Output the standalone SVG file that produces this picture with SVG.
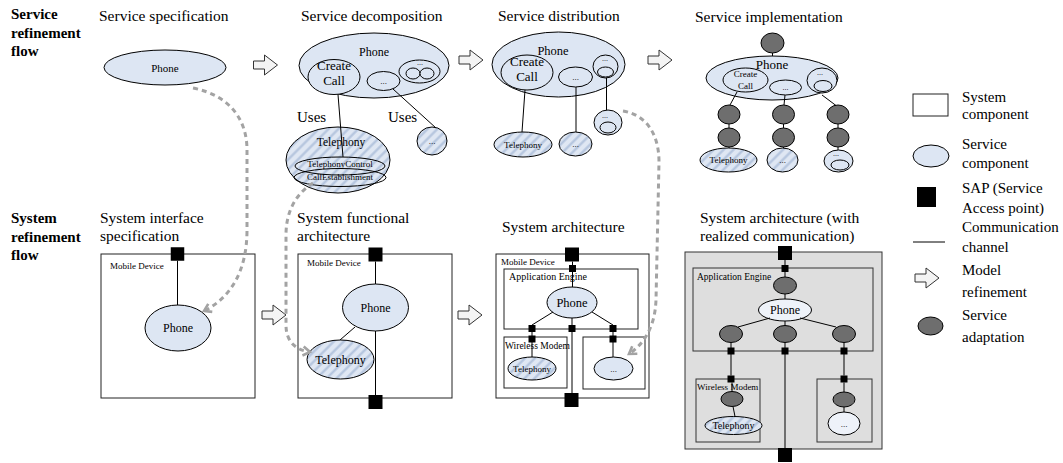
<svg xmlns="http://www.w3.org/2000/svg" width="1063" height="463" viewBox="0 0 1063 463">
<defs>
<style>
text{font-family:"Liberation Serif","Times New Roman",serif;fill:#000}
.h{font-size:15px;font-weight:bold}
.ti{font-size:15.5px}
.lg{font-size:15px}
.c{text-anchor:middle}
.svc{fill:#dde6f3;stroke:#000;stroke-width:1}
.wsv{fill:#eef2f9;stroke:#000;stroke-width:1}
.hat{fill:url(#hatch);stroke:#000;stroke-width:1}
.ad{fill:#6e6e6e;stroke:#000;stroke-width:1}
.box{fill:#fff;stroke:#222;stroke-width:1}
.gbox{fill:#dedede;stroke:#333;stroke-width:1}
.sap{fill:#000}
.ln{stroke:#000;stroke-width:1;fill:none}
.dash{stroke:#a3a3a3;stroke-width:3;stroke-dasharray:5 4;fill:none;marker-end:url(#open)}
.ref{fill:#f4f4f4;stroke:#333;stroke-width:1}
</style>
<pattern id="hatch" width="7" height="7" patternUnits="userSpaceOnUse" patternTransform="rotate(45)">
<rect width="7" height="7" fill="#dfe7f3"/>
<line x1="1.5" y1="0" x2="1.5" y2="7" stroke="#b2c3dd" stroke-width="2.2"/>
</pattern>
<marker id="open" viewBox="0 0 12 12" refX="9" refY="6" markerWidth="12" markerHeight="12" markerUnits="userSpaceOnUse" orient="auto">
<path d="M2,1.5 L9,6 L2,10.5" fill="none" stroke="#a3a3a3" stroke-width="2.6" stroke-dasharray="none"/>
</marker>
<polygon id="refarrow" class="ref" points="-12,-4 -1,-4 -1,-10 12,0 -1,10 -1,4 -12,4"/>
</defs>

<g id="labels">
<text class="h" x="11" y="19">Service</text>
<text class="h" x="11" y="38">refinement</text>
<text class="h" x="11" y="56">flow</text>
<text class="h" x="11" y="223">System</text>
<text class="h" x="11" y="242">refinement</text>
<text class="h" x="11" y="260">flow</text>
<text class="ti" x="99" y="21">Service specification</text>
<text class="ti" x="301" y="21">Service decomposition</text>
<text class="ti" x="498" y="21">Service distribution</text>
<text class="ti" x="695" y="22">Service implementation</text>
<text class="ti" x="100" y="223">System interface</text>
<text class="ti" x="100" y="241">specification</text>
<text class="ti" x="297" y="223">System functional</text>
<text class="ti" x="297" y="241">architecture</text>
<text class="ti" x="502" y="232">System architecture</text>
<text class="ti" x="700" y="223">System architecture (with</text>
<text class="ti" x="700" y="241">realized communication)</text>
</g>

<g id="refinement-arrows">
<use href="#refarrow" x="265.5" y="65"/>
<use href="#refarrow" x="471" y="60"/>
<use href="#refarrow" x="660" y="60"/>
<use href="#refarrow" x="274" y="315"/>
<use href="#refarrow" x="470" y="315"/>
</g>

<!-- Service specification -->
<g id="spec-phone">
<ellipse class="svc" cx="165" cy="67.5" rx="61" ry="17.5"/>
<text class="c" x="165" y="71.5" font-size="11">Phone</text>
</g>

<!-- Service decomposition -->
<g id="dec-phone">
<ellipse class="svc" cx="374" cy="65.5" rx="75" ry="32.5"/>
<text class="c" x="374" y="56" font-size="12">Phone</text>
</g>
<g id="dec-createcall">
<ellipse class="svc" cx="334" cy="77" rx="26" ry="17.5"/>
<text class="c" x="334" y="69.5" font-size="13">Create</text>
<text class="c" x="334" y="85" font-size="13">Call</text>
</g>
<g id="dec-dots">
<ellipse class="svc" cx="383.5" cy="81" rx="16.5" ry="9.5"/>
<text class="c" x="383.5" y="83.5" font-size="9">...</text>
</g>
<g id="dec-group">
<ellipse class="svc" cx="419.5" cy="71.5" rx="20.5" ry="11.5"/>
<text class="c" x="420" y="65" font-size="8">...</text>
<ellipse class="svc" cx="413" cy="73.5" rx="7" ry="5.5"/>
<ellipse class="svc" cx="427" cy="73.5" rx="7" ry="5.5"/>
</g>
<g id="dec-telephony">
<ellipse class="hat" cx="338" cy="160" rx="52" ry="33"/>
<text class="c" x="341" y="146" font-size="11.5">Telephony</text>
<ellipse fill="none" stroke="#000" cx="340" cy="166" rx="45" ry="9"/>
<text class="c" x="340" y="167" font-size="9">TelephonyControl</text>
<ellipse fill="none" stroke="#000" cx="340" cy="177.5" rx="46" ry="9"/>
<text class="c" x="340" y="180" font-size="9">CallEstablishment</text>
</g>
<g id="dec-dots2">
<ellipse class="hat" cx="432" cy="141" rx="15" ry="14"/>
<text class="c" x="432" y="144" font-size="9">...</text>
</g>
<g id="dec-uses">
<text class="lg" x="297" y="122">Uses</text>
<text class="lg" x="388" y="122">Uses</text>
</g>

<!-- Service distribution -->
<g id="dis-phone">
<ellipse class="svc" cx="558.5" cy="64.5" rx="66.5" ry="32.5"/>
<text class="c" x="553" y="55" font-size="12.5">Phone</text>
</g>
<g id="dis-createcall">
<ellipse class="svc" cx="527" cy="72.5" rx="26" ry="17.5"/>
<text class="c" x="527" y="66" font-size="13">Create</text>
<text class="c" x="527" y="81" font-size="13">Call</text>
</g>
<g id="dis-dots">
<ellipse class="svc" cx="575.5" cy="77" rx="17" ry="10"/>
<text class="c" x="575.5" y="80" font-size="9">...</text>
</g>
<g id="dis-group">
<ellipse class="svc" cx="605.5" cy="66.5" rx="12.5" ry="11.5"/>
<text class="c" x="605" y="61" font-size="8">...</text>
<ellipse class="svc" cx="605.5" cy="72" rx="8" ry="5"/>
</g>
<g id="dis-group2">
<ellipse class="svc" cx="608" cy="122.5" rx="14" ry="12.5"/>
<text class="c" x="605" y="118" font-size="8">...</text>
<ellipse class="svc" cx="608" cy="127.5" rx="8" ry="5.5"/>
</g>
<g id="dis-telephony">
<ellipse class="hat" cx="523" cy="144.5" rx="29" ry="12.5"/>
<text class="c" x="523" y="147.5" font-size="9">Telephony</text>
</g>
<g id="dis-dots2">
<ellipse class="hat" cx="575.5" cy="144" rx="16.5" ry="12"/>
<text class="c" x="575.5" y="147" font-size="9">...</text>
</g>

<!-- Service implementation -->
<g id="imp-adapt-top"><ellipse class="ad" cx="772.5" cy="43" rx="11.5" ry="10"/></g>
<g id="imp-phone">
<ellipse class="svc" cx="772" cy="78" rx="66" ry="22"/>
<text class="c" x="772" y="68.5" font-size="13">Phone</text>
</g>
<g id="imp-createcall">
<ellipse class="svc" cx="745.5" cy="80" rx="22.5" ry="12"/>
<text class="c" x="745.5" y="77" font-size="9">Create</text>
<text class="c" x="745.5" y="88.5" font-size="9">Call</text>
</g>
<g id="imp-dots">
<ellipse class="svc" cx="785.5" cy="87.5" rx="16" ry="7.5"/>
<text class="c" x="785.5" y="90" font-size="8">...</text>
</g>
<g id="imp-group">
<ellipse class="svc" cx="822" cy="80.5" rx="15" ry="12.5"/>
<text class="c" x="820" y="75" font-size="8">...</text>
<ellipse class="svc" cx="823" cy="86" rx="9" ry="5.5"/>
</g>
<g id="imp-col1">
<ellipse class="ad" cx="729" cy="114.5" rx="11" ry="9.5"/>
<ellipse class="ad" cx="729" cy="137.5" rx="11" ry="9.5"/>
<ellipse class="hat" cx="728.5" cy="160" rx="28.5" ry="12"/>
<text class="c" x="728.5" y="163" font-size="9">Telephony</text>
</g>
<g id="imp-col2">
<ellipse class="ad" cx="783.5" cy="114.5" rx="11" ry="9.5"/>
<ellipse class="ad" cx="783.5" cy="137.5" rx="11" ry="9.5"/>
<ellipse class="hat" cx="782.5" cy="160" rx="15.5" ry="12"/>
<text class="c" x="782.5" y="163" font-size="9">...</text>
</g>
<g id="imp-col3">
<ellipse class="ad" cx="838" cy="114.5" rx="11" ry="9.5"/>
<ellipse class="ad" cx="838" cy="137.5" rx="11" ry="9.5"/>
<ellipse class="svc" cx="838.5" cy="161" rx="14.5" ry="11"/>
<text class="c" x="836" y="156" font-size="8">...</text>
<ellipse class="svc" cx="840" cy="165" rx="9" ry="5"/>
</g>

<!-- System interface specification -->
<g id="sis-device">
<rect class="box" x="101" y="254" width="154" height="144"/>
<text x="110" y="269" font-size="9">Mobile Device</text>
<rect class="sap" x="170.75" y="247.25" width="13.5" height="13.5"/>
</g>
<g id="sis-phone">
<ellipse class="svc" cx="178" cy="328" rx="33" ry="23"/>
<text class="c" x="178" y="332" font-size="12">Phone</text>
</g>

<!-- System functional architecture -->
<g id="sfa-device">
<rect class="box" x="298" y="254" width="154" height="144"/>
<text x="307" y="266" font-size="9">Mobile Device</text>
<rect class="sap" x="368.5" y="247.5" width="14" height="14"/>
<rect class="sap" x="368.5" y="395" width="14" height="14"/>
</g>
<g id="sfa-phone">
<ellipse class="svc" cx="375.5" cy="307.5" rx="33" ry="23.5"/>
<text class="c" x="375.5" y="312" font-size="12">Phone</text>
</g>
<g id="sfa-telephony">
<ellipse class="hat" cx="340.5" cy="359.5" rx="33.5" ry="19.5"/>
<text class="c" x="340.5" y="364" font-size="12">Telephony</text>
</g>

<!-- System architecture -->
<g id="sa-device">
<rect class="box" x="496" y="254" width="153" height="144"/>
<text x="501" y="265" font-size="9">Mobile Device</text>
<rect class="sap" x="565" y="247.5" width="14" height="14"/>
<rect class="sap" x="564.5" y="393" width="14" height="14"/>
</g>
<g id="sa-appengine">
<rect class="box" x="504" y="269" width="134" height="60"/>
<text x="509" y="279.5" font-size="10">Application Engine</text>
<rect class="sap" x="569" y="265" width="7" height="7"/>
<rect class="sap" x="528.5" y="325" width="7" height="7"/>
<rect class="sap" x="568.5" y="325" width="7" height="7"/>
<rect class="sap" x="609.5" y="325" width="7" height="7"/>
</g>
<g id="sa-phone">
<ellipse class="svc" cx="572" cy="302.5" rx="25" ry="15.5"/>
<text class="c" x="572" y="307" font-size="12.5">Phone</text>
</g>
<g id="sa-modem">
<rect class="box" x="504" y="337" width="63" height="51"/>
<text x="505" y="349" font-size="9.5">Wireless Modem</text>
<rect class="sap" x="528.5" y="335.5" width="7" height="7"/>
</g>
<g id="sa-telephony">
<ellipse class="hat" cx="532" cy="368.5" rx="24" ry="11.5"/>
<text class="c" x="532" y="372" font-size="9">Telephony</text>
</g>
<g id="sa-other">
<rect class="box" x="583" y="337" width="62" height="52"/>
<rect class="sap" x="609.5" y="335.5" width="7" height="7"/>
<ellipse class="svc" cx="613.5" cy="368.5" rx="19.5" ry="11.5"/>
<text class="c" x="613.5" y="371.5" font-size="9">...</text>
</g>

<!-- System architecture with realized communication -->
<g id="rc-device">
<rect class="gbox" x="685" y="252" width="197" height="197"/>
<rect class="sap" x="778" y="246" width="14" height="14"/>
<rect class="sap" x="778" y="448" width="14" height="14"/>
</g>
<g id="rc-appengine">
<rect class="gbox" x="693" y="268" width="180" height="83"/>
<text x="697" y="280" font-size="9.5">Application Engine</text>
<rect class="sap" x="781.5" y="265" width="7" height="7"/>
<rect class="sap" x="727.5" y="347.5" width="7" height="7"/>
<rect class="sap" x="781.5" y="347.5" width="7" height="7"/>
<rect class="sap" x="840.5" y="347.5" width="7" height="7"/>
<ellipse class="ad" cx="785" cy="285.5" rx="11.5" ry="8.5"/>
<ellipse class="ad" cx="731" cy="334" rx="11.5" ry="8.5"/>
<ellipse class="ad" cx="785" cy="334" rx="11.5" ry="8.5"/>
<ellipse class="ad" cx="844" cy="334" rx="11.5" ry="8.5"/>
</g>
<g id="rc-phone">
<ellipse class="wsv" cx="785" cy="310" rx="26.5" ry="11"/>
<text class="c" x="785" y="314" font-size="12">Phone</text>
</g>
<g id="rc-modem">
<rect class="gbox" x="696" y="379" width="64" height="63"/>
<text x="697" y="390" font-size="9">Wireless Modem</text>
<rect class="sap" x="727.5" y="375.5" width="7" height="7"/>
<ellipse class="ad" cx="732" cy="399" rx="11" ry="7.5"/>
<ellipse class="hat" cx="733.5" cy="425.5" rx="28.5" ry="9"/>
<text class="c" x="733.5" y="429" font-size="10">Telephony</text>
</g>
<g id="rc-other">
<rect class="gbox" x="817" y="379" width="55" height="63"/>
<rect class="sap" x="840.5" y="375.5" width="7" height="7"/>
<ellipse class="ad" cx="844" cy="399.5" rx="11" ry="7.5"/>
<ellipse class="wsv" cx="844" cy="423.5" rx="16" ry="11.5"/>
<text class="c" x="844" y="426.5" font-size="9">...</text>
</g>

<!-- Legend -->
<g id="legend">
<rect class="box" x="913" y="94" width="35" height="22"/>
<text class="lg" x="962" y="102">System</text>
<text class="lg" x="962" y="119">component</text>
<ellipse class="svc" cx="931" cy="156" rx="18" ry="11"/>
<text class="lg" x="962" y="149">Service</text>
<text class="lg" x="962" y="168">component</text>
<rect class="sap" x="917" y="187" width="19" height="20"/>
<text class="lg" x="962" y="193">SAP (Service</text>
<text class="lg" x="962" y="213">Access point)</text>
<line class="ln" x1="913" y1="242" x2="945" y2="242"/>
<text class="lg" x="962" y="232">Communication</text>
<text class="lg" x="962" y="252">channel</text>
<use href="#refarrow" x="927" y="278"/>
<text class="lg" x="962" y="275">Model</text>
<text class="lg" x="962" y="297">refinement</text>
<ellipse class="ad" cx="930.5" cy="326" rx="12.5" ry="9"/>
<text class="lg" x="962" y="320">Service</text>
<text class="lg" x="962" y="342">adaptation</text>
</g>

<g id="connectors">
<!-- decomposition -->
<line class="ln" x1="338" y1="94.5" x2="343" y2="157"/>
<line class="ln" x1="393" y1="89" x2="436" y2="128"/>
<!-- distribution -->
<line class="ln" x1="525" y1="90" x2="522" y2="132"/>
<line class="ln" x1="576" y1="87" x2="576" y2="132"/>
<line class="ln" x1="606.5" y1="78" x2="606.5" y2="110"/>
<!-- implementation -->
<line class="ln" x1="772.5" y1="53" x2="772.5" y2="56"/>
<line class="ln" x1="737" y1="92" x2="730" y2="105"/>
<line class="ln" x1="785" y1="95" x2="784" y2="105"/>
<line class="ln" x1="822" y1="95" x2="836" y2="105.5"/>
<line class="ln" x1="729" y1="124" x2="729" y2="128"/>
<line class="ln" x1="729" y1="147" x2="729" y2="148"/>
<line class="ln" x1="783.5" y1="124" x2="783.5" y2="128"/>
<line class="ln" x1="783.5" y1="147" x2="783.5" y2="148"/>
<line class="ln" x1="838" y1="124" x2="838" y2="128"/>
<line class="ln" x1="838" y1="147" x2="838" y2="150"/>
<!-- system interface -->
<line class="ln" x1="177.5" y1="260.75" x2="177.5" y2="305"/>
<!-- system functional -->
<line class="ln" x1="375.5" y1="261.5" x2="375.5" y2="284"/>
<line class="ln" x1="375.5" y1="331" x2="375.5" y2="395"/>
<line class="ln" x1="355" y1="327" x2="340" y2="340"/>
<!-- system architecture -->
<line class="ln" x1="572.5" y1="261.5" x2="572.5" y2="287"/>
<line class="ln" x1="553" y1="312" x2="532" y2="325"/>
<line class="ln" x1="572" y1="318" x2="572" y2="393"/>
<line class="ln" x1="592" y1="312" x2="613" y2="325"/>
<line class="ln" x1="532" y1="332" x2="532" y2="357"/>
<line class="ln" x1="613" y1="332" x2="613" y2="357"/>
<!-- realized communication -->
<line class="ln" x1="785" y1="260" x2="785" y2="277"/>
<line class="ln" x1="785" y1="294" x2="785" y2="299"/>
<line class="ln" x1="770" y1="318" x2="738" y2="327"/>
<line class="ln" x1="785" y1="321" x2="785" y2="325.5"/>
<line class="ln" x1="800" y1="318" x2="836" y2="327"/>
<line class="ln" x1="731" y1="342.5" x2="731" y2="375.5"/>
<line class="ln" x1="785" y1="342.5" x2="785" y2="448"/>
<line class="ln" x1="844" y1="342.5" x2="844" y2="375.5"/>
<line class="ln" x1="732" y1="382.5" x2="732" y2="391.5"/>
<line class="ln" x1="733" y1="406.5" x2="735" y2="416.5"/>
<line class="ln" x1="844" y1="382.5" x2="844" y2="392"/>
<line class="ln" x1="844" y1="407" x2="844" y2="412"/>
<!-- dashed traceability -->
<path class="dash" d="M193,88 C228,95 247,118 247,150 L247,230 C247,272 230,298 204,311"/>
<path class="dash" d="M313,183 C297,193 286,210 286,235 L286,325 C286,342 296,350 310,352"/>
<path class="dash" d="M623,111 C647,115 659,135 659,162 L656,300 C655,326 645,343 629,354"/>
</g>
</svg>
